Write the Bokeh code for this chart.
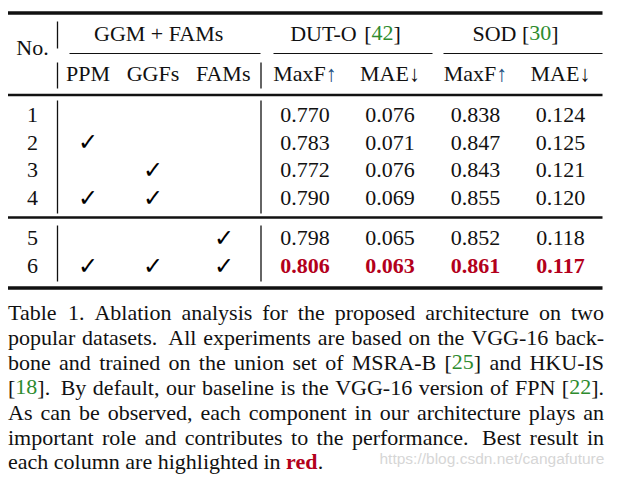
from bokeh.plotting import figure
from bokeh.models import Range1d, ColumnDataSource
from bokeh.core.properties import value, field
from bokeh.embed import file_html
from bokeh.resources import INLINE

# ---------------- data ----------------
run_ids = ["1", "2", "3", "4", "5", "6"]
use_ppm = [0, 1, 0, 1, 0, 1]
use_ggfs = [0, 0, 1, 1, 0, 1]
use_fams = [0, 0, 0, 0, 1, 1]
dut_maxf = [0.770, 0.783, 0.772, 0.790, 0.798, 0.806]
dut_mae = [0.076, 0.071, 0.076, 0.069, 0.065, 0.063]
sod_maxf = [0.838, 0.847, 0.843, 0.855, 0.852, 0.861]
sod_mae = [0.124, 0.125, 0.121, 0.120, 0.118, 0.117]

group_titles = ["GGM + FAMs", "DUT-O ", "SOD "]
group_refs = ["", "42", "30"]
sub_titles = ["PPM", "GGFs", "FAMs", "MaxF", "MAE", "MaxF", "MAE"]
sub_arrows = ["", "", "", "\u2191", "\u2193", "\u2191", "\u2193"]

caption_lines = [
    "Table 1. Ablation analysis for the proposed architecture on two",
    "popular datasets. All experiments are based on the VGG-16 back-",
    "bone and trained on the union set of MSRA-B [{25}] and HKU-IS",
    "[{18}]. By default, our baseline is the VGG-16 version of FPN [{22}].",
    "As can be observed, each component in our architecture plays an",
    "important role and contributes to the performance. Best result in",
    "each column are highlighted in *red*.",
]
watermark = "https://blog.csdn.net/cangafuture"

# ---------------- styles / layout ----------------
SERIF = "Liberation Serif"
FS = 22
BLACK = "#111111"
GREEN = "#2e8b2e"
RED = "#b3001b"
ARROW_UP = "#23507e"
# offset (in em) between the requested y and where the glyph baseline lands
BASE_SHIFT = {"Liberation Serif": 0.3375, "DejaVu Sans": 0.346, "Liberation Sans": 0.3465}

W_REG = dict(zip("abcdefghijklmnopqrstuvwxyz",
                 [444, 500, 444, 500, 444, 333, 500, 500, 278, 278, 500, 278, 778,
                  500, 500, 500, 500, 333, 389, 278, 500, 500, 722, 500, 500, 444]))
W_REG.update(dict(zip("ABCDEFGHIJKLMNOPQRSTUVWXYZ",
                      [722, 667, 667, 722, 611, 556, 722, 722, 333, 389, 722, 611, 889,
                       722, 722, 556, 722, 667, 556, 611, 722, 722, 944, 722, 722, 611])))
W_REG.update({c: 500 for c in "0123456789"})
W_REG.update({" ": 250, ".": 250, ",": 250, "-": 333, "[": 333, "]": 333,
              ":": 278, "+": 564, "\u2191": 500, "\u2193": 500})
W_BOLD = dict(W_REG)
W_BOLD.update({"r": 444, "e": 444, "d": 556})


def tw(s, bold=False, size=FS):
    t = W_BOLD if bold else W_REG
    return sum(t.get(c, 500) for c in s) * size / 1000.0


src = dict(x=[], y=[], text=[], color=[], font=[], size=[], style=[], align=[])


def put(x, base, text, color=BLACK, bold=False, font=SERIF, size=FS, align="left"):
    src["x"].append(x)
    src["y"].append(base - BASE_SHIFT[font] * size)
    src["text"].append(text)
    src["color"].append(color)
    src["font"].append(font)
    src["size"].append(f"{size}px")
    src["style"].append("bold" if bold else "normal")
    src["align"].append(align)


def put_segments(x, y, segs):
    for text, color, bold in segs:
        put(x, y, text, color, bold)
        x += tw(text, bold)


def seg_width(segs):
    return sum(tw(t, b) for t, c, b in segs)


# table geometry (pixel coordinates of the picture; y = text baselines)
col_x = [32, 87.5, 152.5, 223.5, 304.5, 389.5, 475, 560]
group_x = [159, 345, 515]
hdr1_y, hdr2_y, no_y = 40, 80, 54.5
row_y = [122, 149.7, 177.3, 205, 245, 273]
left, right = 7.5, 603.5

p = figure(width=608, height=476, x_range=Range1d(0, 608), y_range=Range1d(476, 0),
           output_backend="svg", toolbar_location=None, min_border=0,
           x_axis_location=None, y_axis_location=None)
p.outline_line_color = None
p.grid.visible = False
p.background_fill_color = "white"
p.border_fill_color = "white"

# rules
rules = dict(x0=[], y0=[], x1=[], y1=[], w=[])


def rule(x0, y0, x1, y1, w):
    rules["x0"].append(x0); rules["y0"].append(y0)
    rules["x1"].append(x1); rules["y1"].append(y1); rules["w"].append(w)


rule(left, 12.5, 602, 12.5, 3.3)
rule(left, 94.5, 602, 94.5, 2.3)
rule(left, 217, 602, 217, 2.4)
rule(left, 287.5, 602, 287.5, 3.3)
for a, b in [(69, 260), (273, 432), (443, 602)]:
    rule(a, 53, b, 53, 1.2)
for x, spans in [(57, [(21, 48), (62, 88), (100, 213), (225, 281)]),
                 (260.5, [(62, 88), (100, 213), (225, 281)])]:
    for a, b in spans:
        rule(x, a, x, b, 1.3)
p.segment(x0="x0", y0="y0", x1="x1", y1="y1", line_width="w", line_color=BLACK,
          line_cap="butt", source=ColumnDataSource(rules))

# headers
put(col_x[0], no_y, "No.", align="center")
for gx, title, ref in zip(group_x, group_titles, group_refs):
    segs = [(title, BLACK, False)]
    if ref:
        segs += [("[", BLACK, False), (ref, GREEN, False), ("]", BLACK, False)]
    put_segments(gx - seg_width(segs) / 2, hdr1_y, segs)
for cx, t, a in zip(col_x[1:], sub_titles, sub_arrows):
    segs = [(t, BLACK, False)]
    if a:
        segs += [(a, ARROW_UP if a == "\u2191" else BLACK, False)]
    put_segments(cx - seg_width(segs) / 2, hdr2_y, segs)

# body
metric_cols = [dut_maxf, dut_mae, sod_maxf, sod_mae]
best = [max(dut_maxf), min(dut_mae), max(sod_maxf), min(sod_mae)]
for i, ry in enumerate(row_y):
    put(col_x[0], ry, run_ids[i], align="center")
    for cx, flags in zip(col_x[1:4], [use_ppm, use_ggfs, use_fams]):
        if flags[i]:
            put(cx, ry + 0.5, "\u2713", color="black", bold=True, font="DejaVu Sans",
                size=24, align="center")
    for cx, vals, b in zip(col_x[4:], metric_cols, best):
        isbest = vals[i] == b
        put(cx, ry, f"{vals[i]:.3f}", color=RED if isbest else BLACK, bold=isbest,
            align="center")

# caption (justified); slightly tighter leading so the last line stays inside
cap_y0, cap_dy = 319.5, 24.9


def parse_word(w):
    segs, cur, color, bold = [], "", BLACK, False
    for ch in w:
        if ch in "{}*":
            if cur:
                segs.append((cur, color, bold))
            cur = ""
            if ch == "{":
                color = GREEN
            elif ch == "}":
                color = BLACK
            else:
                bold = not bold
                color = RED if bold else BLACK
        else:
            cur += ch
    if cur:
        segs.append((cur, color, bold))
    return segs


for li, line in enumerate(caption_lines):
    y = cap_y0 + li * cap_dy
    words = [parse_word(w) for w in line.split(" ")]
    widths = [seg_width(s) for s in words]
    last = li == len(caption_lines) - 1
    if last:
        gaps = [tw(" ")] * (len(words) - 1)
    else:
        weights = []
        for w in line.split(" ")[:-1]:
            weights.append(1.6 if w.endswith(".") and not w.endswith("1.") else 1.0)
        extra = (right - left) - sum(widths)
        unit = extra / sum(weights)
        gaps = [unit * wt for wt in weights]
    x = left
    for k, segs in enumerate(words):
        put_segments(x, y, segs)
        if k < len(gaps):
            x += widths[k] + gaps[k]

# watermark
put(379, cap_y0 + 5.78 * cap_dy, watermark, color="#d6d6d6", font="Liberation Sans", size=15.5)

p.text(x="x", y="y", text="text", text_color=field("color"), text_font=field("font"),
       text_font_size=field("size"), text_font_style=field("style"),
       text_align=field("align"), text_baseline=value("alphabetic"),
       source=ColumnDataSource(src))

open("out.html", "w").write(file_html(p, INLINE))
